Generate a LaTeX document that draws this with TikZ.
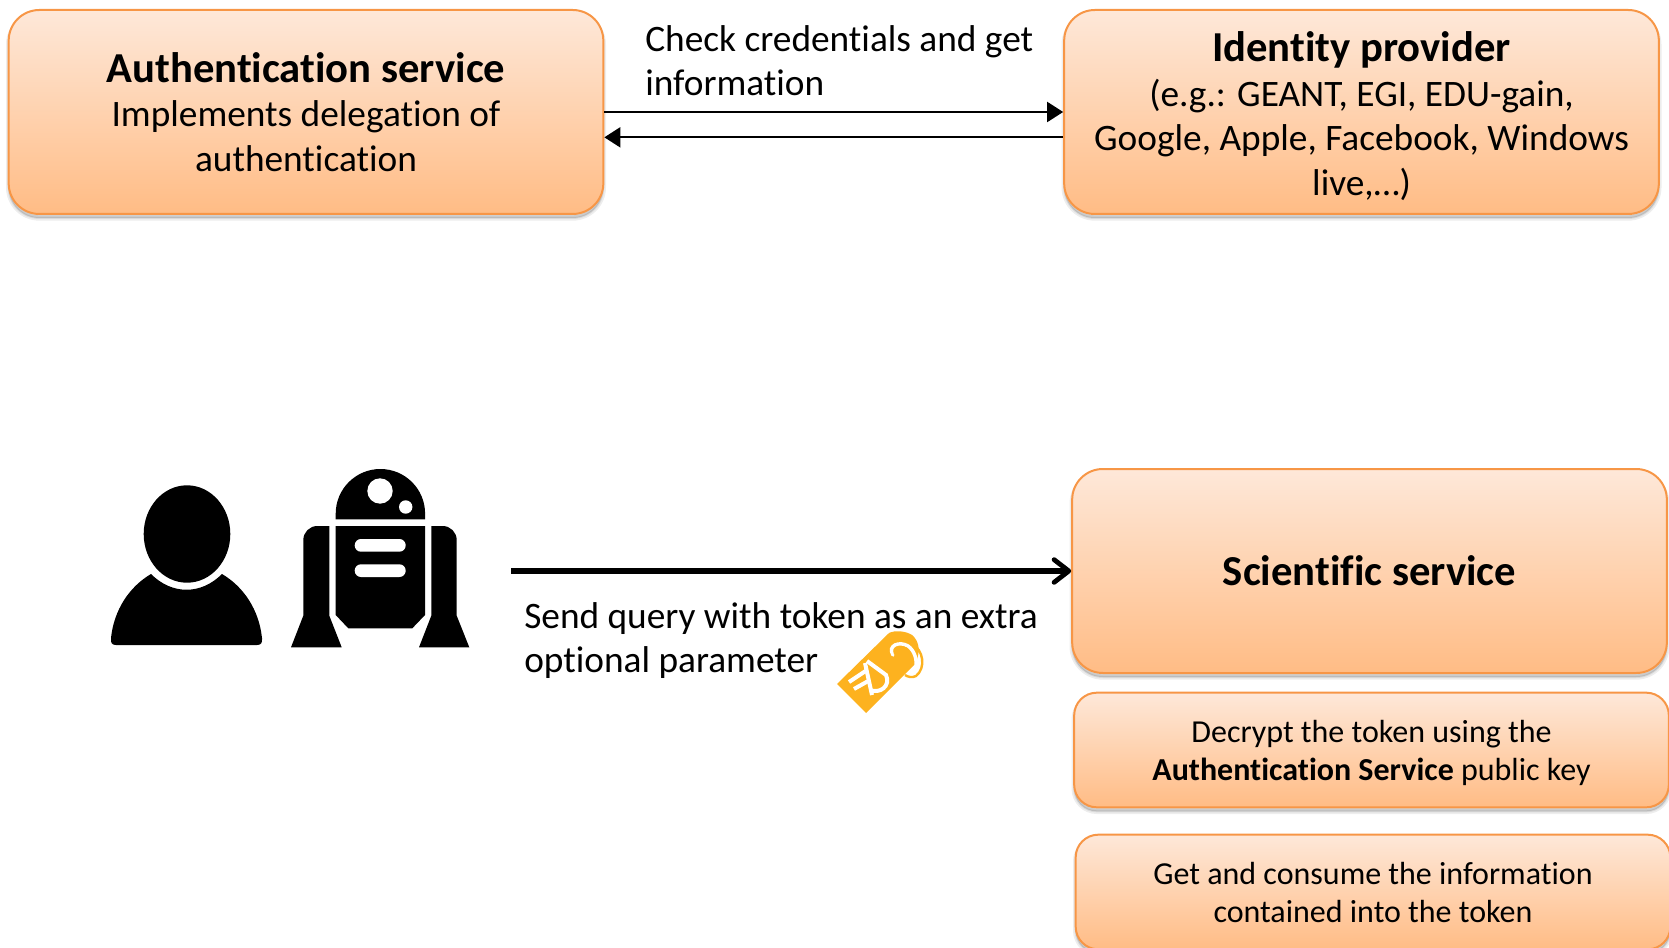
\documentclass[tikz,border=0pt]{standalone}
\usepackage{fontspec}
\setmainfont[Ligatures=NoCommon]{Carlito}
\usepackage{tikz}
\usetikzlibrary{arrows.meta, positioning}
\definecolor{boxline}{HTML}{F79646}
\definecolor{boxtop}{HTML}{FEE8D9}
\definecolor{boxbottom}{HTML}{FFBC85}
\definecolor{tagorange}{HTML}{FDB21F}
\tikzset{
	servicebox/.style={draw=boxline, line width=1.5pt, rounded corners=23pt, top color=boxtop, bottom color=boxbottom, align=center,
		preaction={draw=black, draw opacity=.07, fill=black, fill opacity=.07, line width=4pt, transform canvas={yshift=-3pt}},
		preaction={draw=black, draw opacity=.08, fill=black, fill opacity=.08, line width=1.5pt, transform canvas={yshift=-3pt}}},
	bigbox/.style={servicebox, minimum width=446pt, minimum height=153pt, font=\fontsize{28}{33.6}\selectfont},
	smallbox/.style={servicebox, minimum width=446pt, minimum height=86pt, rounded corners=17pt, font=\fontsize{24}{28.5}\selectfont},
	caption/.style={align=left, anchor=north west, inner sep=0pt, font=\fontsize{28}{33.6}\selectfont},
	link/.style={-{Triangle[length=12pt,width=15pt]}, line width=1.5pt},
	mainlink/.style={-{Straight Barb[length=11pt,width=17pt,line width=3.6pt,round]}, line width=3.9pt},
}
\newcommand{\bighead}[1]{{\bfseries\fontsize{32}{34}\selectfont #1}}
\begin{document}
\begin{tikzpicture}[x=0.75pt, y=-0.75pt]
	\useasboundingbox (0,0) rectangle (1669,948);
	% the services
	\node[bigbox] (auth) at (306,112) {\bighead{Authentication service}\\Implements delegation of\\authentication};
	\node[bigbox] (idp) at (1361.5,112) {\rule{0pt}{28.5pt}\bighead{Identity provider}\\(e.g.: GEANT, EGI, EDU-gain,\\Google, Apple, Facebook, Windows\\live,…)};
	\node[bigbox] (science) at (1369.5,571) {\bighead{Scientific service}};
	\node[smallbox] (decrypt) at (1371.5,750) {\rule{0pt}{21.5pt}Decrypt the token using the\\\textbf{Authentication Service} public key};
	\node[smallbox] (consume) at (1373,892) {\rule{0pt}{18pt}Get and consume the information\\contained into the token};
	% the exchanges
	\coordinate (client) at (511,571);
	\draw[link] (auth.east) -- (idp.west);
	\draw[link] ([yshift=-19pt]idp.west) -- ([yshift=-19pt]auth.east);
	\draw[mainlink] (client) -- (science.west);
	\node[caption] (check) at (645,25) {Check credentials and get\\information};
	\node[caption] (query) at (524,602) {Send query with token as an extra\\optional parameter};
	% user
	\fill (187,534) ellipse [x radius=43.3, y radius=48.7];
	\fill (151,574) .. controls (129,587) and (114,610) .. (111,638) .. controls (110.5,643) and (112,645) .. (116,645) -- (257,645) .. controls (261,645) and (262.5,643) .. (262,638) .. controls (259,610) and (244,587) .. (222,574) .. controls (201,595) and (172,595) .. (151,574) -- cycle;
	% robot
	\fill (335.7,519.3) -- (335.7,513.7) arc [start angle=180, end angle=360, x radius=44.7, y radius=44.7] -- (425,519.3) -- cycle;
	\fill[white] (380,491) circle [radius=12.7] (405.7,507) circle [radius=6.7];
	\fill (335.7,526) -- (425,526) -- (425,615) -- (412.3,628.3) -- (348.3,628.3) -- (335.7,615) -- cycle;
	\fill[white, rounded corners=4.7pt] (354.7,539) rectangle (405.7,551.7) (354.7,564.3) rectangle (405.7,577);
	\fill (329.3,526) -- (329.3,615.7) -- (341.7,647.3) -- (291,647.3) -- (303.3,615.7) -- (303.3,540) arc [start angle=180, end angle=270, radius=14] -- cycle;
	\fill (431.3,526) -- (431.3,615.7) -- (419,647.3) -- (469.3,647.3) -- (456.7,615.7) -- (456.7,540) arc [start angle=0, end angle=-90, radius=14] -- cycle;
	% token
	\fill[tagorange] (837,684) -- (866,713) -- (915,664) .. controls (922,650) and (918,640) .. (912,635) .. controls (906,631) and (895,630) .. (889,633) -- cycle;
	\draw[white, line width=2.6pt, line cap=round] (893,655) .. controls (887,645) and (900,641) .. (908,646) .. controls (915,651) and (917,660) .. (916,668);
	\draw[tagorange, line width=1.6pt, line cap=round] (895,654) .. controls (892,648) and (902,645) .. (907,649);
	\draw[tagorange, line width=1.8pt] (911,643) .. controls (924,650) and (926,668) .. (916,676) .. controls (912,678) and (908,677) .. (905,675);
	\draw[white, line width=3pt] (867,661) -- (886,675) .. controls (891,686) and (880,694) .. (870,690);
	\draw[white, line width=3pt] (865,663) -- (872,695);
	\draw[white, line width=3pt] (849,682) -- (867,670) (854,689) -- (870,680);
\end{tikzpicture}
\end{document}
